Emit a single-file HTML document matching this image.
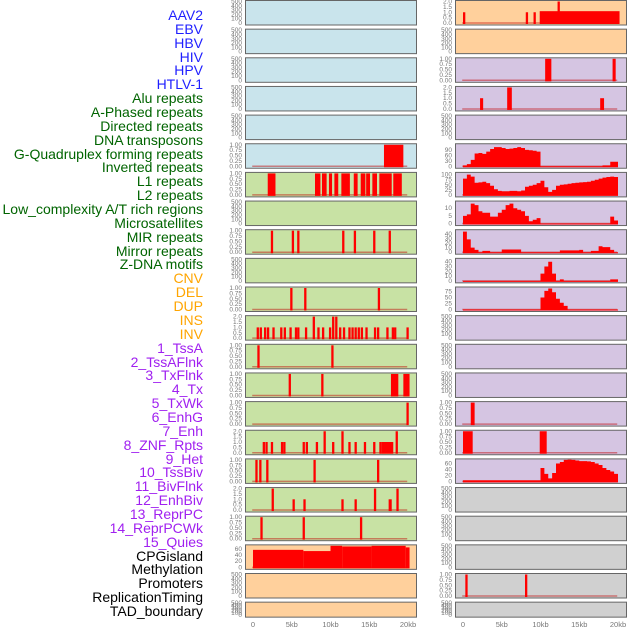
<!DOCTYPE html>
<html><head><meta charset="utf-8"><style>
html,body{margin:0;padding:0;background:#fff;}
#wrap{position:relative;width:630px;height:630px;overflow:hidden;}
.lab{position:absolute;right:427px;font:14px "Liberation Sans",sans-serif;white-space:nowrap;line-height:14px;}
svg{position:absolute;left:0;top:0;}
</style></head><body>
<div id="wrap">
<div id="labels"></div>
<svg id="chart" width="630" height="630"></svg>
</div>
<script>
const trackNames=["AAV2","EBV","HBV","HIV","HPV","HTLV-1","Alu repeats","A-Phased repeats","Directed repeats","DNA transposons","G-Quadruplex forming repeats","Inverted repeats","L1 repeats","L2 repeats","Low_complexity A/T rich regions","Microsatellites","MIR repeats","Mirror repeats","Z-DNA motifs","CNV","DEL","DUP","INS","INV","1_TssA","2_TssAFlnk","3_TxFlnk","4_Tx","5_TxWk","6_EnhG","7_Enh","8_ZNF_Rpts","9_Het","10_TssBiv","11_BivFlnk","12_EnhBiv","13_ReprPC","14_ReprPCWk","15_Quies","CPGisland","Methylation","Promoters","ReplicationTiming","TAD_boundary"];
const trackColors=["#1f1fff","#1f1fff","#1f1fff","#1f1fff","#1f1fff","#1f1fff"].concat(Array(13).fill("#006400"),Array(5).fill("#ffa500"),Array(15).fill("#a020f0"),Array(5).fill("#000000"));
const xTicks=[0,5,10,15,20];
const xTickLabels=["0","5kb","10kb","15kb","20kb"];
// bar segments [startKb, endKb|null, value]
const g4Left=[[16.9,19.4,1]];
const l1Left=[[1.9,2.9,1],[8.0,8.7,1],[8.9,9.5,1],[9.8,10.2,1],[10.5,11.0,1],[11.4,12.5,1],[13.0,13.5,1],[13.9,14.5,1],[14.6,15.1,1],[15.4,16.0,1],[16.3,17.9,1],[18.1,19.2,1]];
const mirLeft=[[2.3,null,1],[5.0,null,1],[5.7,null,1],[11.5,null,1],[13.0,null,1],[15.5,null,1],[17.5,null,1]];
const delLeft=[[4.8,null,1],[6.6,null,1],[16.1,null,1]];
const insLeft=[[0.47,null,1],[0.86,null,1],[1.42,null,1],[1.8,null,1],[2.5,null,1],[3.5,null,1],[3.96,null,1],[4.7,null,1],[5.4,null,1],[5.7,null,1],[6.7,null,1],[7.7,null,2],[8.3,null,1],[8.9,null,1],[9.8,null,1],[10.2,null,2],[10.6,null,2],[11.1,null,1],[11.6,null,1],[12.3,null,1],[12.7,null,1],[13.1,null,1],[13.5,null,1],[13.9,null,1],[14.5,null,1],[15.6,null,1],[16.0,null,1],[17.2,null,1],[17.9,null,1],[18.2,null,1],[19.8,null,1]];
const tssaLeft=[[0.56,null,1],[10.1,null,1]];
const txflnkLeft=[[4.6,null,1],[8.8,null,1],[17.8,18.75,1],[19.4,20.2,1]];
const txwkLeft=[[19.8,null,1]];
const enhLeft=[[1.25,null,1],[1.6,null,1],[2.3,null,1],[3.6,null,1],[3.9,null,1],[6.4,null,1],[6.8,null,1],[8.1,null,1],[9.1,null,2],[10.2,null,1],[11.4,null,2],[12.3,null,1],[13.1,null,1],[14.3,null,1],[15.5,null,1],[16.3,null,1],[16.6,18.1,1],[18.4,null,2]];
const hetLeft=[[0.3,null,1],[0.8,null,1],[1.7,null,1],[7.8,null,1],[16.0,null,1]];
const bivflnkLeft=[[2.4,null,2],[5.1,null,1],[6.5,null,1],[11.4,null,1],[13.1,null,1],[15.6,null,2],[17.5,17.9,1],[18.5,null,2]];
const reprpcLeft=[[0.95,null,1],[6.4,null,1],[13.8,null,1]];
const cpgLeft=[[0,6.5,57],[6.5,10,53],[10,11.5,70],[11.5,15.3,68],[15.3,19.7,70],[19.7,20.2,65]];
const aavRight=[[0,null,1],[8.1,null,1],[9.1,null,1],[9.9,20.2,1.1],[12.2,null,2]];
const hivRight=[[10.6,11.4,1],[19.3,19.7,1]];
const aluRight=[[2.2,2.6,1],[5.7,6.3,2],[17.7,18.2,1]];
const enhgRight=[[1.0,1.5,1]];
const znfRight=[[0,1.25,1],[9.9,10.8,1]];
const promRight=[[0.3,null,1],[8.0,null,1]];
// binned profiles, 0.5kb bins starting at 0
const invertedRight=[5,12,35,70,73,68,80,95,105,105,100,95,97,100,105,100,90,88,85,80,0,0,0,0,0,0,0,0,0,0,0,0,0,0,0,0,5,5,25,25];
const l2Right=[80,100,90,60,62,65,58,45,28,20,18,18,20,20,18,22,40,45,50,58,70,38,15,25,45,50,52,55,58,60,62,63,65,70,75,80,85,88,90,88];
const microRight=[5,6,13,12,8,7,7,4.5,4.5,7,9,12,13,10,9,8,5,1.5,2.5,3.5,0,0,0,0,0,0,0,0,0,0,0,0,0,0,0,0,0,0,4.5,2];
const mirrorRight=[45,28,10,5,0,3,3,0,0,0,6,6,6,6,6,0,0,0,0,0,0,0,0,0,0,4,4,4,4,4,5,0,0,3,3,13,11,11,5,0];
const cnvRight=[0,0,0,0,0,0,0,0,0,0,0,0,0,0,0,0,0,0,0,0,15,30,40,15,0,3,0,0,0,0,0,0,0,0,0,0,0,0,3,3];
const dupRight=[0,0,0,0,0,0,0,0,0,0,0,0,0,0,0,0,0,0,0,0,50,78,88,72,45,28,15,0,0,0,0,0,0,0,0,0,0,0,0,0];
const tssbivRight=[4,4,4,4,4,4,4,4,4,4,4,4,4,4,4,4,4,4,4,4,45,25,10,28,60,65,72,73,72,70,68,68,67,65,60,55,45,38,33,25];
// tick label sets
const ticksEmpty=[0,100,200,300,400,500];
const ticks1=[0,0.25,0.5,0.75,1];
const ticks2=[0,0.5,1,1.5,2];
const BG={blue:"#c9e4ec",orange:"#ffd09c",purple:"#d5c5e2",green:"#c8e2a4",gray:"#d0d0d0"};
// [row, side(0 left,1 right), bg, ymax, ticks, kind, data, name]
const panels=[];
for(let r=0;r<22;r++){
  let lbg=r<6?"blue":(r<19?"green":"orange");
  let rbg=r<2?"orange":(r<17?"purple":"gray");
  panels.push([r,0,lbg,500,ticksEmpty,"empty",null,"left-"+r]);
  panels.push([r,1,rbg,500,ticksEmpty,"empty",null,"right-"+r]);
}
function setP(r,s,ymax,ticks,kind,data,name){const p=panels[r*2+s];p[3]=ymax;p[4]=ticks;p[5]=kind;p[6]=data;p[7]=name;}
setP(5,0,1,ticks1,"bars",g4Left,"g-quadruplex");
setP(6,0,1,ticks1,"bars",l1Left,"l1-repeats");
setP(8,0,1,ticks1,"bars",mirLeft,"mir-repeats");
setP(10,0,1,ticks1,"bars",delLeft,"del");
setP(11,0,2,ticks2,"bars",insLeft,"ins");
setP(12,0,1,ticks1,"bars",tssaLeft,"tssa");
setP(13,0,1,ticks1,"bars",txflnkLeft,"txflnk");
setP(14,0,1,ticks1,"bars",txwkLeft,"txwk");
setP(15,0,2,ticks2,"bars",enhLeft,"enh");
setP(16,0,1,ticks1,"bars",hetLeft,"het");
setP(17,0,2,ticks2,"bars",bivflnkLeft,"bivflnk");
setP(18,0,1,ticks1,"bars",reprpcLeft,"reprpc");
setP(19,0,70,[0,20,40,60],"bars",cpgLeft,"cpg-island");
setP(0,1,2,ticks2,"bars",aavRight,"aav2");
setP(2,1,1,ticks1,"bars",hivRight,"hiv");
setP(3,1,2,ticks2,"bars",aluRight,"alu");
setP(5,1,118,[0,30,60,90],"area",invertedRight,"inverted-repeats");
setP(6,1,106,[0,25,50,75,100],"area",l2Right,"l2-repeats");
setP(7,1,14,[0,5,10],"area",microRight,"microsatellites");
setP(8,1,47,[0,10,20,30,40],"area",mirrorRight,"mirror-repeats");
setP(9,1,45,[0,10,20,30,40],"area",cnvRight,"cnv");
setP(10,1,90,[0,25,50,75],"area",dupRight,"dup");
setP(14,1,1,ticks1,"bars",enhgRight,"enhg");
setP(15,1,1,ticks1,"bars",znfRight,"znf-rpts");
setP(16,1,72,[0,20,40,60],"area",tssbivRight,"tssbiv");
setP(20,1,1,ticks1,"bars",promRight,"promoters");

const NS="http://www.w3.org/2000/svg";
const svg=document.getElementById("chart");
const PX=[245,455], PW=171, X0=[253,463], PXKB=7.75;
function rowTop(r){return r*28.65;}
function rowH(r){return r==21?15:24.5;}
function xs(s,kb){return X0[s]+kb*PXKB;}
function ys(r,v,ymax){const h=rowH(r);return rowTop(r)+h-1.5-v/ymax*(h-3);}
function fmt(t,ticks){const m=ticks[ticks.length-1];if(m==1)return t.toFixed(2);if(m==2)return t.toFixed(1);return String(t);}
function mk(tag,attrs){const e=document.createElementNS(NS,tag);for(const k in attrs)e.setAttribute(k,attrs[k]);return e;}

// labels
const labDiv=document.getElementById("labels");
trackNames.forEach((n,i)=>{
  const d=document.createElement("div");
  d.className="lab";d.textContent=n;d.style.color=trackColors[i];
  d.style.top=(15+i*13.86-7)+"px";
  
  
  labDiv.appendChild(d);
});

panels.forEach(p=>{
  const [r,s,bg,ymax,ticks,kind,data,name]=p;
  const g=mk("g",{});
  
  
  const rect=mk("rect",{x:PX[s]+0.5,y:rowTop(r)+0.5,width:PW,height:rowH(r),fill:BG[bg],stroke:"#666","stroke-width":1});
  
  
  g.appendChild(rect);
  ticks.forEach(t=>{
    const tx=mk("text",{x:PX[s]-3,y:ys(r,t,ymax)+2,"font-size":6.5,"text-anchor":"end",fill:"#777","font-family":"Liberation Sans, sans-serif"});
    tx.textContent=fmt(t,ticks);
    
    
    g.appendChild(tx);
  });
  if(kind!=="empty"){
    const y0=ys(r,0,ymax);
    const bl=mk("line",{x1:xs(s,-0.1),x2:xs(s,19.9),y1:y0,y2:y0,stroke:"rgba(190,0,0,0.45)","stroke-width":1.5});
    
    
    g.appendChild(bl);
  }
  if(kind==="bars"){
    data.forEach(d=>{
      const a=xs(s,d[0]), b=d[1]==null?a+2.3:xs(s,d[1]);
      const yt=ys(r,d[2],ymax), y0=ys(r,0,ymax);
      const br=mk("rect",{x:a,y:yt,width:Math.max(b-a,1),height:y0-yt+1,fill:"#ff0000"});
      
      
      g.appendChild(br);
    });
  } else if(kind==="area"){
    let dd="";const y0=ys(r,0,ymax)+1;
    dd+="M"+xs(s,0)+","+y0;
    data.forEach((v,i)=>{dd+=" L"+xs(s,i*0.5)+","+ys(r,v,ymax)+" L"+xs(s,i*0.5+0.5)+","+ys(r,v,ymax);});
    dd+=" L"+xs(s,data.length*0.5)+","+y0+" Z";
    const ar=mk("path",{d:dd,fill:"#ff0000"});
    
    
    g.appendChild(ar);
  }
  svg.appendChild(g);
});
// x axes
[0,1].forEach(s=>{
  xTicks.forEach((t,i)=>{
    const tx=mk("text",{x:xs(s,t),y:627,"font-size":7.5,"text-anchor":"middle",fill:"#777","font-family":"Liberation Sans, sans-serif"});
    tx.textContent=xTickLabels[i];
    
    
    svg.appendChild(tx);
  });
});
</script>
</body></html>
